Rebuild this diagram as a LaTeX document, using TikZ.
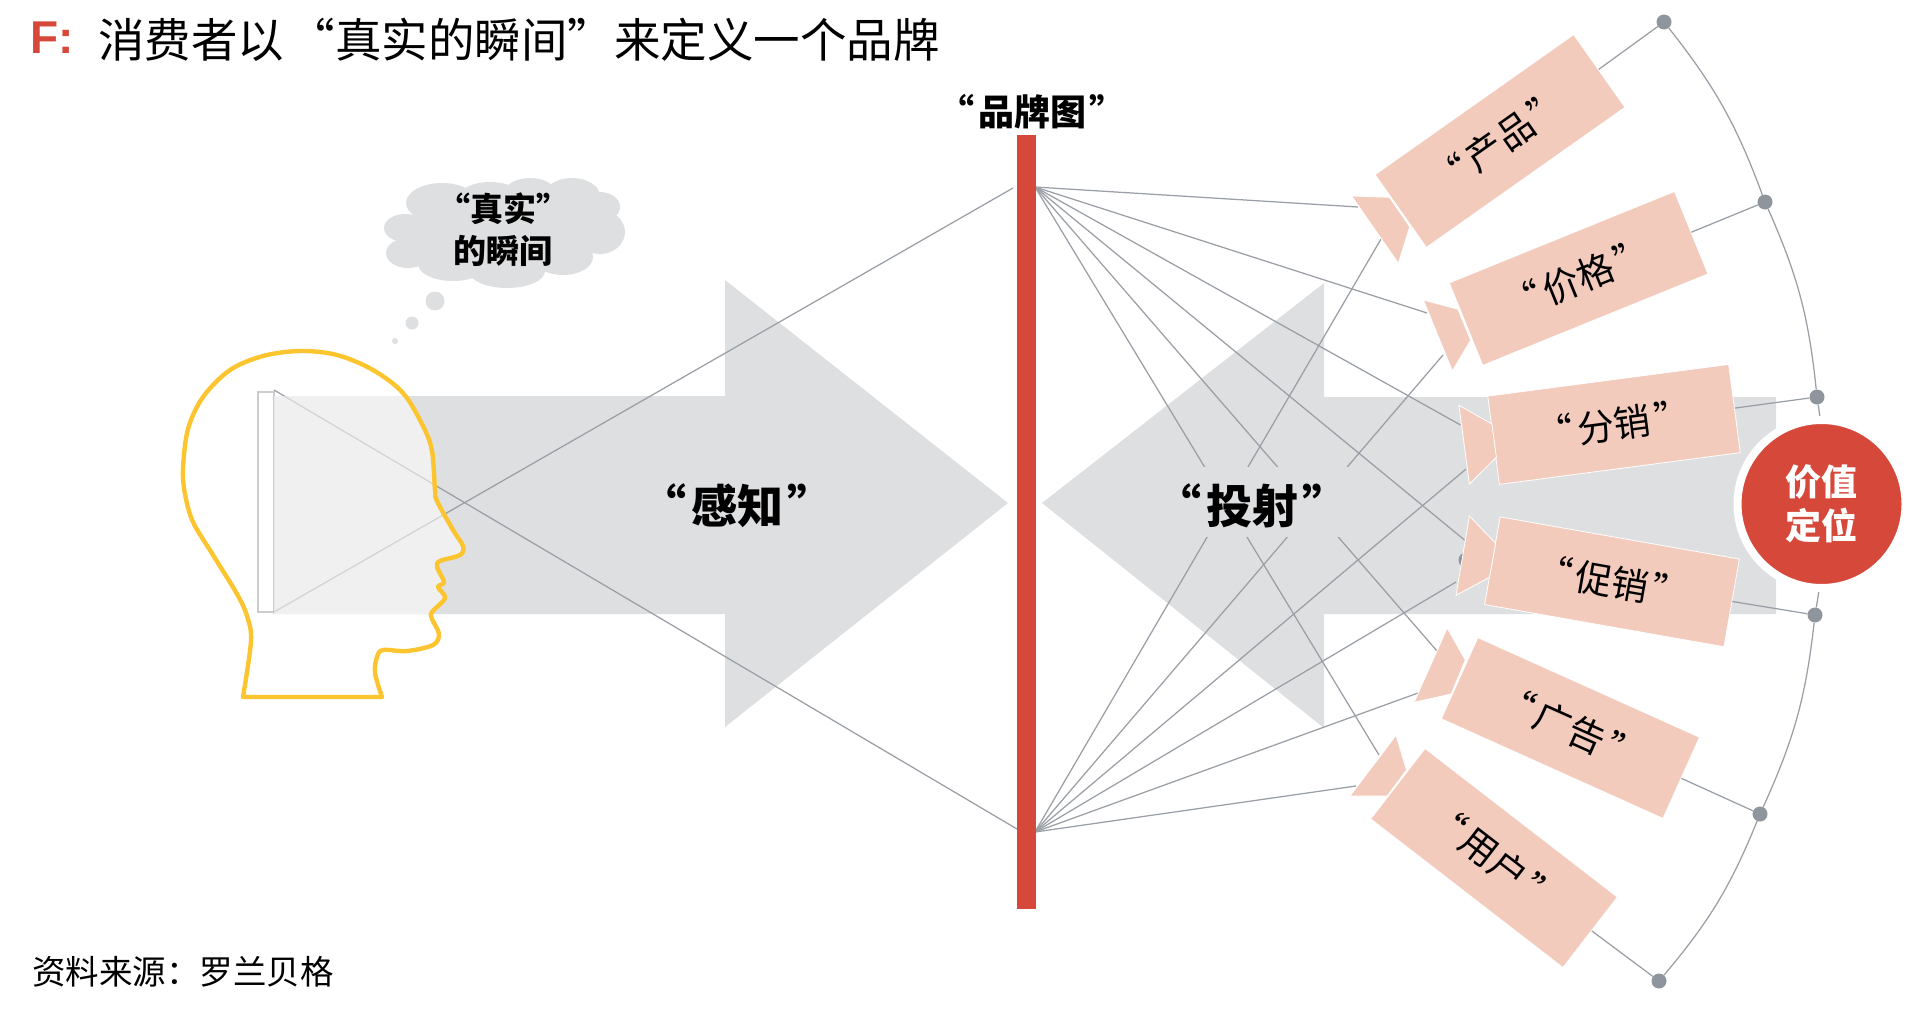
\documentclass[tikz,border=0pt]{standalone}
\usepackage{fontspec}
\setmainfont{Noto Sans CJK SC}
\newfontfamily\latinfont{Liberation Sans}
\newcommand{\sz}[2]{\fontsize{#1}{#2}\selectfont}
\newcommand{\qt}[1]{“\hspace{.1em}#1\hspace{.1em}”}
\definecolor{arrowgray}{HTML}{DEDFE1}
\definecolor{linegray}{HTML}{9A9FA6}
\definecolor{dotgray}{HTML}{8E959D}
\definecolor{brandred}{HTML}{D6493A}
\definecolor{lenspink}{HTML}{F3CBBD}
\definecolor{headyellow}{HTML}{FCC52F}
\def\headpath{(382,697) -- (243,697) -- plot[smooth,tension=.55] coordinates {(243,697) (251,641) (247,616) (237,594) (213,555) (193,522) (185,494) (183,469) (188,429) (203,397) (230,370) (263,356) (300,351) (337,355) (373,370) (403,393) (423,426) (432,451) (435,490) (437,501) (453,530) (463,546) (460,555) (440,561) (437,567) (444,582) (438,587) (445,598) (432,612) (432,619) (439,634) (433,645) (407,651) (383,650) (377,657) (375,673) (382,697)} -- cycle}
\tikzset{
  thin line/.style={draw=linegray,line width=1.25pt},
  dotmark/.style={circle,fill=dotgray,minimum size=15pt,inner sep=0pt},
  lens/.style={fill=lenspink,draw=white,line width=.8pt},
  mixbox/.style={rectangle,fill=lenspink,draw=white,line width=.8pt,minimum width=243pt,minimum height=89pt,inner sep=0pt,font=\sz{37}{42}},
  biglabel/.style={font=\sz{46}{54}\bfseries,inner sep=0pt}
}
\begin{document}
\begin{tikzpicture}[x=1pt,y=-1pt]
\useasboundingbox (0,0) rectangle (1932,1010);
\node[anchor=west,inner sep=0pt,text=brandred,font=\latinfont\sz{46}{54}\bfseries] (tag) at (30,38) {F:};
\node[anchor=west,inner sep=0pt,font=\sz{46.5}{54}] (title) at (98,40) {消费者以\hspace{.1em}“真实的瞬间”来定义一个品牌};
\node[anchor=west,inner sep=0pt,font=\sz{33.5}{40}] (source) at (32,972) {资料来源：罗兰贝格};

\fill[arrowgray] (273,396) -- (725,396) -- (725,280) -- (1008,503) -- (725,727) -- (725,614) -- (273,614) -- cycle;
\fill[arrowgray] (1042,503) -- (1324,283) -- (1324,397) -- (1776,397) -- (1776,614) -- (1324,614) -- (1324,728) -- cycle;
\draw[black!20,line width=1.2pt] (258,392) rectangle (274,612);

\coordinate (eyeT) at (274,390);
\coordinate (eyeB) at (274,612);
\coordinate (barT) at (1035,187);
\coordinate (barB) at (1035,832);
\draw[thin line] (eyeT) -- (1017,829);
\draw[thin line] (eyeB) -- (1013,188);
\foreach \fx/\fy in {1358/207,1427/313,1460.5/425,1464.5/540,1437/651,1379/755}
  \draw[thin line] (barT) -- (\fx,\fy);
\foreach \fx/\fy in {1356/786,1418/693,1456/582,1466/469,1443/355,1381/239}
  \draw[thin line] (barB) -- (\fx,\fy);

\begin{scope}
\clip \headpath;
\fill[white,opacity=.55] (274,396) rectangle (470,614);
\end{scope}
\draw[headyellow,line width=4.4pt,line join=round] \headpath;

\node[fill=arrowgray,minimum width=185pt,minimum height=70pt,inner sep=0pt] (mask) at (1267,502) {};
\node[biglabel] (perceive) at (737,506) {\qt{感知}};
\node[biglabel] (project) at (1252,506) {\qt{投射}};

% cloud lobes
\foreach \cx/\cy/\rx/\ry in {505/230/88/36,405/228/21/14,408/253/22/15,428/240/20/16,442/203/36/20,490/196/30/14,530/192/25/14,572/196/28/18,600/207/20/15,600/232/25/22,563/257/30/18,507/271/38/17,453/264/35/17}
  \fill[arrowgray] (\cx,\cy) ellipse ({\rx} and {\ry});
\node[inner sep=0pt,align=center,font=\sz{33}{42}\bfseries] (thought) at (503,230) {“真实”\\的瞬间};
\fill[arrowgray] (435,301) circle (9.5) (412,323) circle (6.5) (395,341) circle (3);

\fill[brandred] (1017,135) rectangle (1035.5,909);
\node[inner sep=0pt,font=\sz{36}{42}\bfseries] (brandmap) at (1032,112) {\qt{品牌图}};

\node[dotmark] (d1) at (1664,22) {};
\node[dotmark] (d2) at (1765,202) {};
\node[dotmark] (d3) at (1817,397) {};
\node[dotmark] (d4) at (1815,615) {};
\node[dotmark] (d5) at (1760,814) {};
\node[dotmark] (d6) at (1659,981) {};
\node[dotmark] (dhid) at (1466,560) {};
\foreach \a/\b in {d1/d2,d2/d3,d3/d4,d4/d5,d5/d6}
  \draw[thin line] (\a) to[bend left=9] (\b);

\node[mixbox,rotate=35.2] (product) at (1500,141) {\qt{产品}};
\node[mixbox,rotate=22.1] (price) at (1578.6,278.4) {\qt{价格}};
\node[mixbox,rotate=7.5] (place) at (1614,424.4) {\qt{分销}};
\node[mixbox,rotate=-10] (promo) at (1612,581.8) {\qt{促销}};
\node[mixbox,rotate=-24.2] (advert) at (1570.4,728) {\qt{广告}};
\node[mixbox,rotate=-37.7] (user) at (1494,858) {\qt{用户}};
\foreach \a/\b in {product/d1,price/d2,place/d3,promo/d4,advert/d5,user/d6}
  \draw[thin line] (\a) -- (\b);

\draw[lens] (1351.6,196) -- (1389.5,197.3) -- (1409.7,226.7) -- (1398.4,263.3) -- cycle;
\draw[lens] (1423.4,300) -- (1458,309.3) -- (1470.6,340) -- (1452.4,371) -- cycle;
\draw[lens] (1458.9,405.3) -- (1491.9,424) -- (1496.4,457.3) -- (1469.4,484) -- cycle;
\draw[lens] (1469.4,516) -- (1495.6,543.3) -- (1489.5,577.3) -- (1456,595.3) -- cycle;
\draw[lens] (1447.2,628) -- (1465.3,660) -- (1451.2,694) -- (1414.1,702.3) -- cycle;
\draw[lens] (1396,735.3) -- (1406.5,770) -- (1387.1,796) -- (1350,796) -- cycle;

\node[circle,fill=brandred,draw=white,line width=8pt,minimum size=168pt,inner sep=0pt,text=white,align=center,font=\sz{36}{44}\bfseries] (value) at (1821.5,504) {价值\\定位};
\end{tikzpicture}
\end{document}
